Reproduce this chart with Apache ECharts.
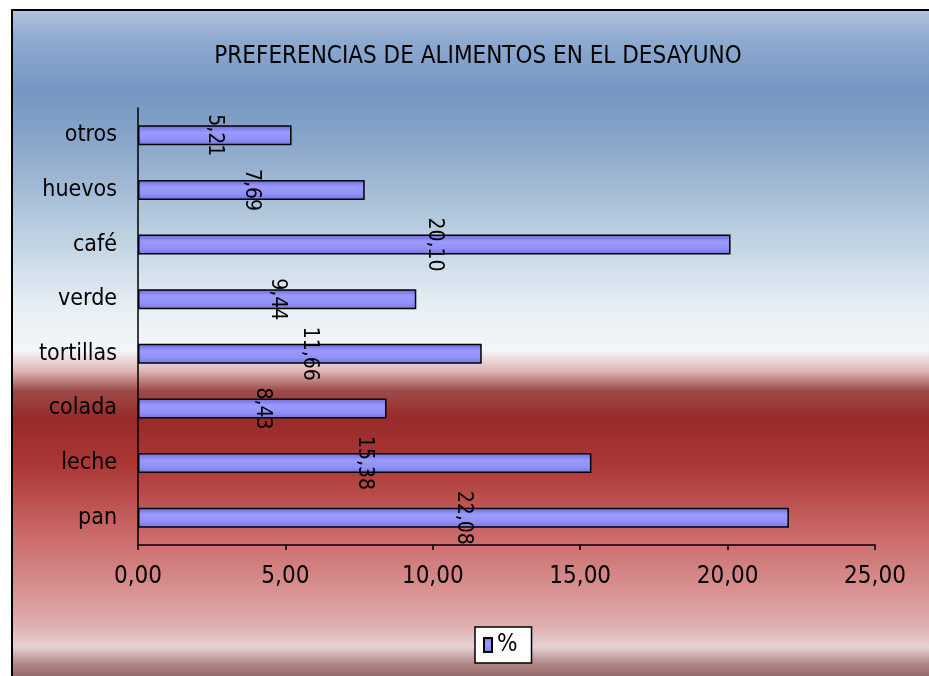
<!DOCTYPE html>
<html>
<head>
<meta charset="utf-8">
<script src="https://cdn.jsdelivr.net/npm/echarts@6/dist/echarts.min.js"></script>
<style>html,body{margin:0;padding:0;background:#fff;}#c{width:929px;height:676px;}</style>
</head>
<body>
<div id="c"></div>
<script>
const titleText = 'PREFERENCIAS DE ALIMENTOS EN EL DESAYUNO';
const categories = ['pan', 'leche', 'colada', 'tortillas', 'verde', 'café', 'huevos', 'otros'];
const values = [22.08, 15.38, 8.43, 11.66, 9.44, 20.10, 7.69, 5.21];
const seriesName = '%';
const xTicks = [0, 5, 10, 15, 20, 25];

const FONT = '"Liberation Sans Narrow", "DejaVu Sans Condensed", "Liberation Sans", Arial, sans-serif';
const fmt = v => Number(v).toFixed(2).replace('.', ',');

const chart = echarts.init(document.getElementById('c'), null, {renderer: 'canvas'});
chart.setOption({
  animation: false,
  backgroundColor: '#ffffff',
  graphic: [{
    type: 'rect', z: -10, silent: true,
    shape: {x: 12, y: 10, width: 930, height: 680},
    style: {
      fill: new echarts.graphic.LinearGradient(0, 0, 0, 1, [
        {offset: 0.000, color: '#b4c4de'},
        {offset: 0.045, color: '#8eaad0'},
        {offset: 0.120, color: '#7496c2'},
        {offset: 0.210, color: '#8eaacc'},
        {offset: 0.330, color: '#bcd0e0'},
        {offset: 0.435, color: '#e6eef4'},
        {offset: 0.500, color: '#f4f6f8'},
        {offset: 0.530, color: '#e0b8b8'},
        {offset: 0.560, color: '#9c4a4a'},
        {offset: 0.600, color: '#982a2a'},
        {offset: 0.670, color: '#ab3836'},
        {offset: 0.760, color: '#c86464'},
        {offset: 0.850, color: '#d89090'},
        {offset: 0.905, color: '#dfb0b0'},
        {offset: 0.935, color: '#e6d2d2'},
        {offset: 0.960, color: '#b08888'},
        {offset: 1.000, color: '#7a4848'}
      ]),
      stroke: '#000', lineWidth: 2
    }
  }],
  title: {
    text: titleText,
    left: 473, top: 40, textAlign: 'center',
    textStyle: {fontFamily: FONT, fontSize: 24, fontWeight: 'normal', color: '#000'}
  },
  legend: {
    data: [seriesName],
    left: 475, top: 627,
    backgroundColor: '#ffffff', borderColor: '#000', borderWidth: 1.5,
    padding: [6, 14, 6, 8],
    itemWidth: 8, itemHeight: 14, itemGap: 6,
    icon: 'rect',
    textStyle: {fontFamily: FONT, fontSize: 24, color: '#000', padding: [0, 0, 0, 0]}
  },
  grid: {left: 138, right: 54, top: 108, bottom: 131},
  xAxis: {
    type: 'value', min: 0, max: 25, interval: 5,
    axisLine: {show: true, lineStyle: {color: '#000', width: 1.5}},
    axisTick: {show: true, length: 5, lineStyle: {color: '#000', width: 1.5}},
    splitLine: {show: false},
    axisLabel: {
      fontFamily: FONT, fontSize: 24, color: '#000', margin: 20,
      formatter: v => xTicks.includes(v) ? fmt(v) : ''
    }
  },
  yAxis: {
    type: 'category', data: categories,
    axisLine: {show: true, lineStyle: {color: '#000', width: 1.5}},
    axisTick: {show: false},
    axisLabel: {fontFamily: FONT, fontSize: 23, color: '#000', margin: 21}
  },
  series: [{
    name: seriesName, type: 'bar', data: values, barWidth: 20,
    itemStyle: {
      color: new echarts.graphic.LinearGradient(0, 0, 0, 1, [
        {offset: 0, color: '#6a6ad6'},
        {offset: 0.35, color: '#9a9aff'},
        {offset: 0.7, color: '#9090f6'},
        {offset: 1, color: '#7474e0'}
      ]),
      borderColor: '#000', borderWidth: 1.5
    },
    label: {
      show: true, position: 'inside', rotate: -90,
      fontFamily: FONT, fontSize: 21, color: '#000',
      formatter: p => fmt(p.value)
    }
  }]
});
</script>
</body>
</html>
